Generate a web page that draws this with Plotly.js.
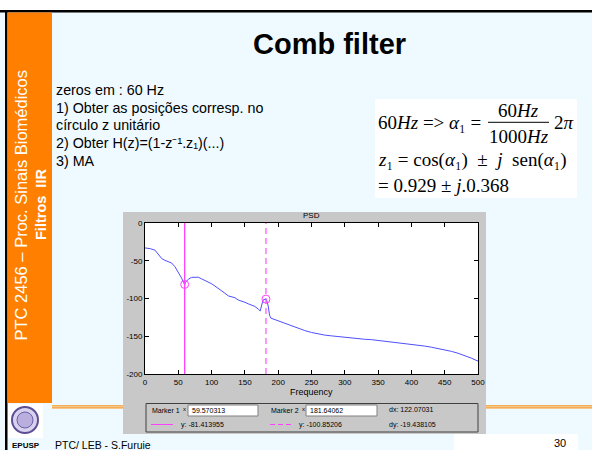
<!DOCTYPE html>
<html>
<head>
<meta charset="utf-8">
<script src="https://cdn.plot.ly/plotly-3.0.1.min.js"></script>
<style>html,body{margin:0;padding:0;background:#EEFAFF;}#chart{width:592px;height:450px;}</style>
</head>
<body>
<div id="chart"></div>
<script>
// ---- data ----
const freq = [0,8,15,20,25,30,35,40,45,50,55,58,59.57,61,65,70,75,80,85,90,95,100,105,110,115,120,125,130,135,140,145,150,155,160,165,170,173,176,178,181.64,183,185,187,189,195,200,210,220,230,240,250,260,270,280,290,300,310,320,330,340,350,360,370,380,390,400,410,420,430,440,450,460,470,480,490,500];
const psd = [-33,-34,-36,-41,-47,-49.5,-51,-53,-58,-65,-73,-79,-81.4,-78.5,-74.5,-72,-71.5,-71.8,-74,-76,-78,-80.5,-83.5,-86.5,-89,-93,-96.5,-97.5,-99,-102,-103,-105,-107,-108.5,-110.5,-114,-116.5,-106,-101.5,-100.85,-103,-110,-122,-126,-128,-129,-132,-135.5,-139,-142.5,-145,-147,-148.5,-149.5,-150.5,-151.5,-152,-153,-154,-154.5,-155.5,-156.5,-157.5,-158.5,-159.5,-160.5,-161.5,-163,-164.5,-166,-168,-170,-172.5,-175.5,-179,-183];
const markerX = [59.570313, 181.64062];
const markerY = [-81.413955, -100.85206];
const markerXText = ['59.570313', '181.64062'];
const markerYText = ['-81.413955', '-100.85206'];
const dxText = '122.07031';
const dyText = '-19.438105';
const xTicks = [0,50,100,150,200,250,300,350,400,450,500];
const yTicks = [-200,-150,-100,-50,0];

// ---- helpers (pixel -> paper) ----
const W = 592, H = 450;
const px = x => x / W;
const py = y => 1 - y / H;
const SANS = 'Liberation Sans, Arial, sans-serif';
const SERIF = 'Liberation Serif, Times New Roman, DejaVu Serif, serif';
function rect(x0, y0, x1, y1, fill, line, layer) {
  return {type:'rect', xref:'paper', yref:'paper', x0:px(x0), x1:px(x1), y0:py(y1), y1:py(y0),
          fillcolor:fill, line: line || {width:0}, layer: layer || 'below'};
}
function hline(x0, x1, y, color, width, dash) {
  return {type:'line', xref:'paper', yref:'paper', x0:px(x0), x1:px(x1), y0:py(y), y1:py(y),
          line:{color:color, width:width, dash:dash || 'solid'}, layer:'below'};
}
function txt(x, y, text, size, opts) {
  opts = opts || {};
  const font = Object.assign({family:SANS, size:size, color:'#000'}, opts.font || {});
  return Object.assign({xref:'paper', yref:'paper', x:px(x), y:py(y), text:text, showarrow:false,
    xanchor:'left', yanchor:'middle'}, opts, {font:font});
}
const ES = 19; // equation font size
const it = s => '<span style="font-style:italic">' + s + '</span>';
const sp = '\u00a0';
const s1 = '\u2081';          // subscript 1
const sup = '\u207B\u00B9';   // superscript -1

const shapes = [
  rect(0, 0, 592, 10, '#FFFFFF'),
  rect(0, 10, 592, 12.5, '#000000'),
  rect(5, 10, 7.5, 450, '#000000'),
  rect(7.5, 12.5, 52, 403, '#FF8000'),
  rect(8, 404, 43, 438, '#FFFFFF'),
  {type:'circle', xref:'paper', yref:'paper', x0:px(12), x1:px(38), y0:py(433), y1:py(407),
   fillcolor:'#D9D2EE', line:{color:'#5E4E96', width:2}, layer:'below'},
  {type:'circle', xref:'paper', yref:'paper', x0:px(17), x1:px(33), y0:py(428), y1:py(412),
   fillcolor:'#B9AEDD', line:{color:'#6E5EA6', width:1}, layer:'below'},
  hline(52, 592, 405.8, '#F7931E', 1.2),
  hline(52, 592, 407.8, '#F7931E', 1.2),
  rect(454, 434, 578, 450, '#FFFFFF'),
  rect(123, 212, 486, 434, '#C8C8C8'),
  rect(145, 223, 478, 374, '#FFFFFF'),
  rect(146, 403.5, 478, 432, 'rgba(0,0,0,0)', {color:'#404040', width:1}),
  rect(188, 405, 258, 416, '#FFFFFF', {color:'#808080', width:1}),
  rect(306, 405, 377, 416, '#FFFFFF', {color:'#808080', width:1}),
  hline(151, 173, 424.5, '#FF40FF', 1),
  hline(270, 293, 424.5, '#FF40FF', 1, '5px,3px'),
  rect(375, 99, 577, 198, '#FFFFFF'),
  hline(488, 549, 122.3, '#000000', 1)
];

const annotations = [
  txt(329.5, 44, 'Comb filter', 29, {xanchor:'center', font:{weight:'bold'}}),
  txt(54, 90, 'zeros em : 60 Hz', 14.3),
  txt(54, 107.5, '1) Obter as posições corresp. no', 14.3),
  txt(54, 125, 'círculo z unitário', 14.3),
  txt(54, 143, '2) Obter H(z)=(1-z' + sup + '.z' + s1 + ')(...)', 14.3),
  txt(54, 160.5, '3) MA', 14.3),
  txt(20.5, 205, 'PTC 2456 – Proc. Sinais Biomédicos', 16.5, {xanchor:'center', textangle:-90, font:{color:'#FFFFFF'}}),
  txt(41, 205, 'Filtros' + sp + sp + 'IIR', 14.5, {xanchor:'center', textangle:-90, font:{color:'#FFFFFF', weight:'bold'}}),
  // equation
  txt(376, 123, '60' + it('Hz') + ' =>' + sp + it('α') + s1 + sp + '=', ES, {font:{family:SERIF}}),
  txt(518.5, 110.5, '60' + it('Hz'), ES, {xanchor:'center', font:{family:SERIF}}),
  txt(518.5, 136.5, '1000' + it('Hz'), ES, {xanchor:'center', font:{family:SERIF}}),
  txt(552, 123, '2' + it('π'), ES, {font:{family:SERIF}}),
  txt(376, 160, it('z') + s1 + sp + '=' + sp + 'cos(' + it('α') + s1 + ')' + sp + sp + '±' + sp + sp + it('j') + sp + sp + 'sen(' + it('α') + s1 + ')', ES, {font:{family:SERIF}}),
  txt(376, 185.5, '=' + sp + '0.929' + sp + '±' + sp + it('j') + '.0.368', ES, {font:{family:SERIF}}),
  // plot texts
  txt(311.5, 215, 'PSD', 8, {xanchor:'center'}),
  txt(311.5, 392, 'Frequency', 9, {xanchor:'center'}),
  // marker panel
  txt(150, 410.5, 'Marker 1', 7),
  txt(181, 409, 'x', 6),
  txt(190, 410.5, markerXText[0], 7),
  txt(269, 410.5, 'Marker 2', 7),
  txt(299.5, 409, 'x', 6),
  txt(308, 410.5, markerXText[1], 7),
  txt(387, 409, 'dx: ' + dxText, 7),
  txt(179, 424.5, 'y: ' + markerYText[0], 7),
  txt(297, 424.5, 'y: ' + markerYText[1], 7),
  txt(387, 424.5, 'dy: ' + dyText, 7),
  // footer
  txt(25.5, 445, 'EPUSP', 8, {xanchor:'center', font:{weight:'bold'}}),
  txt(53, 444.5, 'PTC/ LEB - S.Furuie', 10.5),
  txt(568, 442.5, '30', 11, {xanchor:'right'})
];

const traces = [
  {x:freq, y:psd, type:'scatter', mode:'lines', line:{color:'#4F4FFF', width:1}, hoverinfo:'skip'},
  {x:[markerX[0], markerX[0]], y:[yTicks[0], yTicks[yTicks.length-1]], type:'scatter', mode:'lines',
   line:{color:'#FF40FF', width:1.3}, hoverinfo:'skip'},
  {x:[markerX[1], markerX[1]], y:[yTicks[0], yTicks[yTicks.length-1]], type:'scatter', mode:'lines',
   line:{color:'#FF40FF', width:1.1, dash:'6px,4px'}, hoverinfo:'skip'},
  {x:markerX, y:markerY, type:'scatter', mode:'markers',
   marker:{symbol:'circle-open', size:8, color:'#FF40FF', line:{width:1}}, hoverinfo:'skip'}
];

const axisCommon = {
  showgrid:false, zeroline:false, showline:true, linecolor:'#000', linewidth:1, mirror:'ticks',
  ticks:'inside', ticklen:4, tickcolor:'#000', tickwidth:1,
  tickfont:{family:SANS, size:8, color:'#000'}, fixedrange:true
};

const layout = {
  width:W, height:H, margin:{l:0, r:0, t:0, b:0, pad:0},
  paper_bgcolor:'#EEFAFF', plot_bgcolor:'rgba(0,0,0,0)', showlegend:false,
  xaxis:Object.assign({}, axisCommon, {domain:[px(145), px(478)], range:[0,500], tickvals:xTicks, ticktext:xTicks.map(String)}),
  yaxis:Object.assign({}, axisCommon, {domain:[py(374), py(223)], range:[-200,0], tickvals:yTicks, ticktext:yTicks.map(String)}),
  shapes:shapes, annotations:annotations
};

Plotly.newPlot('chart', traces, layout, {displayModeBar:false, staticPlot:true});
</script>
</body>
</html>
